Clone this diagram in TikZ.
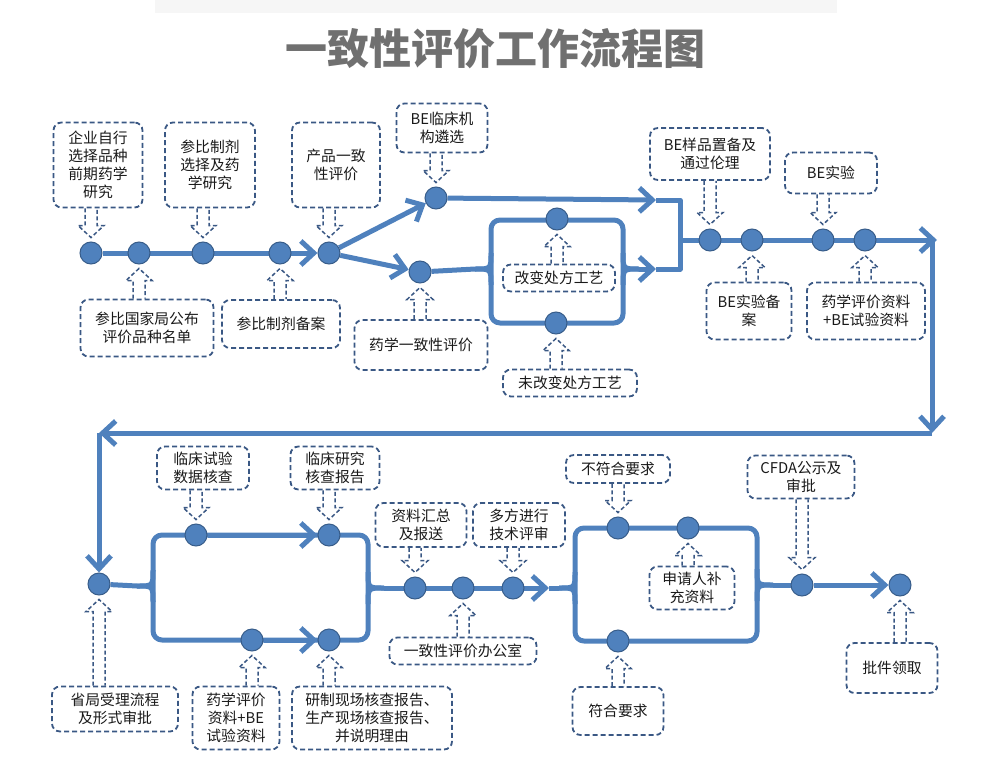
\documentclass[tikz,border=0pt]{standalone}
\usepackage{fontspec}
\setmainfont{Noto Sans CJK SC}
\usetikzlibrary{arrows.meta,backgrounds,calc}

\definecolor{flowblue}{RGB}{79,129,189}
\definecolor{dotedge}{RGB}{56,93,138}
\definecolor{boxedge}{RGB}{58,88,132}
\definecolor{titlegray}{RGB}{112,112,112}

\tikzset{
  flow/.style={draw=flowblue, line width=5pt, line join=round},
  go/.style={-{Straight Barb[length=13pt,width=24pt]}},
  dot/.style={circle, fill=flowblue, draw=dotedge, line width=1pt, minimum size=22pt, inner sep=0pt},
  lbl/.style={draw=boxedge, dash pattern=on 5pt off 3pt, line width=1.8pt, rounded corners=8pt,
    align=center, inner sep=2pt, text=black!90, font=\fontsize{14.8}{18}\selectfont},
  harrow/.style={draw=boxedge, dash pattern=on 4pt off 2.5pt, line width=1.5pt}
}

% hollow arrow, box above -> dot below
\newcommand\hdown[2]{%
  \draw[harrow] let \p1=(#2 |- #1.south), \p2=(#2.north) in
    ({\x1-6pt},\y1) -- ({\x1-6pt},{\y2+16pt}) -- ({\x1-13pt},{\y2+16pt})
    -- (\x1,{\y2+4pt}) -- ({\x1+13pt},{\y2+16pt}) -- ({\x1+6pt},{\y2+16pt}) -- ({\x1+6pt},\y1);}
% hollow arrow, box below -> dot above
\newcommand\hup[2]{%
  \draw[harrow] let \p1=(#2 |- #1.north), \p2=(#2.south) in
    ({\x1-6pt},\y1) -- ({\x1-6pt},{\y2-16pt}) -- ({\x1-13pt},{\y2-16pt})
    -- (\x1,{\y2-4pt}) -- ({\x1+13pt},{\y2-16pt}) -- ({\x1+6pt},{\y2-16pt}) -- ({\x1+6pt},\y1);}
% rounded joint where a line meets a loop side
\newcommand\joinL[1]{%
  \draw[flow] ([xshift=-16pt]#1) .. controls (#1) .. ([yshift=16pt]#1);
  \draw[flow] ([xshift=-16pt]#1) .. controls (#1) .. ([yshift=-16pt]#1);}
\newcommand\joinR[1]{%
  \draw[flow] ([yshift=16pt]#1) .. controls (#1) .. ([xshift=16pt]#1);
  \draw[flow] ([yshift=-16pt]#1) .. controls (#1) .. ([xshift=16pt]#1);}

\begin{document}
\begin{tikzpicture}[x=1pt,y=-1pt]
\useasboundingbox (0,0) rectangle (1001,765);
\fill[gray!7] (155,0) rectangle (837,13);

\node[text=titlegray, font=\fontsize{42}{50}\selectfont\bfseries] (title) at (495,49) {一致性评价工作流程图};

% dots
\node[dot] (d1) at (91,253) {};
\node[dot] (d2) at (139,253) {};
\node[dot] (d3) at (203,253) {};
\node[dot] (d4) at (280,253) {};
\node[dot] (d5) at (329,253) {};
\node[dot] (b1) at (436,198) {};
\node[dot] (b2) at (420,272) {};
\node[dot] (c1) at (557,219) {};
\node[dot] (c2) at (556,323) {};
\node[dot] (e1) at (710,240) {};
\node[dot] (e2) at (752,240) {};
\node[dot] (e3) at (823,240) {};
\node[dot] (e4) at (865,240) {};
\node[dot] (f0) at (99,584) {};
\node[dot] (g1) at (196,535) {};
\node[dot] (g2) at (329,535) {};
\node[dot] (g3) at (252,640) {};
\node[dot] (g4) at (329,640) {};
\node[dot] (h1) at (415,588) {};
\node[dot] (h2) at (463,588) {};
\node[dot] (h3) at (513,588) {};
\node[dot] (k1) at (618,528) {};
\node[dot] (k2) at (688,528) {};
\node[dot] (k3) at (618,641) {};
\node[dot] (m1) at (802,585) {};
\node[dot] (m2) at (900,585) {};

% corners and joints
\coordinate (lp1a) at (491,220);  \coordinate (lp1b) at (623,323);
\coordinate (lj1) at (491,269);   \coordinate (rj1) at (623,269);
\coordinate (mt) at (656,200);    \coordinate (mb) at (656,269);
\coordinate (jt) at (680,200);    \coordinate (jb) at (680,269);
\coordinate (jm) at (680,240);    \coordinate (ra) at (937,240);
\coordinate (rt) at (932,240);    \coordinate (rb) at (932,433);
\coordinate (lb) at (99,433);
\coordinate (lp2a) at (153,535);  \coordinate (lp2b) at (368,640);
\coordinate (lj2) at (153,586);   \coordinate (rj2) at (368,588);
\coordinate (ha) at (549,588);
\coordinate (lp3a) at (575,528);  \coordinate (lp3b) at (757,641);
\coordinate (lj3) at (575,588);   \coordinate (rj3) at (757,585);

% labels
\node[lbl, minimum width=89, minimum height=85] (t1) at (98,165) {企业自行\\选择品种\\前期药学\\研究};
\node[lbl, minimum width=90, minimum height=85] (t2) at (210,165) {参比制剂\\选择及药\\学研究};
\node[lbl, minimum width=88, minimum height=85] (t3) at (336,165) {产品一致\\性评价};
\node[lbl, minimum width=91, minimum height=49] (t4) at (442,128) {BE临床机\\构遴选};
\node[lbl, minimum width=120, minimum height=52] (t5) at (710,154) {BE样品置备及\\通过伦理};
\node[lbl, minimum width=92, minimum height=41] (t6) at (831,173) {BE实验};
\node[lbl, minimum width=133, minimum height=57] (u1) at (147,328) {参比国家局公布\\评价品种名单};
\node[lbl, minimum width=118, minimum height=48] (u2) at (281,324) {参比制剂备案};
\node[lbl, minimum width=133, minimum height=50] (u3) at (421,345) {药学一致性评价};
\node[lbl, minimum width=112, minimum height=27] (u4) at (559,278) {改变处方工艺};
\node[lbl, minimum width=134, minimum height=27] (u5) at (570,383) {未改变处方工艺};
\node[lbl, minimum width=85, minimum height=57] (u6) at (749,311) {BE实验备\\案};
\node[lbl, minimum width=118, minimum height=57] (u7) at (866,311) {药学评价资料\\+BE试验资料};
\node[lbl, minimum width=92, minimum height=43] (v1) at (203,468) {临床试验\\数据核查};
\node[lbl, minimum width=89, minimum height=43] (v2) at (335,468) {临床研究\\核查报告};
\node[lbl, minimum width=91, minimum height=44] (v3) at (421,525) {资料汇总\\及报送};
\node[lbl, minimum width=92, minimum height=44] (v4) at (519,525) {多方进行\\技术评审};
\node[lbl, minimum width=104, minimum height=28] (v5) at (618,469) {不符合要求};
\node[lbl, minimum width=107, minimum height=43] (v6) at (801,477) {CFDA公示及\\审批};
\node[lbl, minimum width=126, minimum height=45] (w1) at (115,709) {省局受理流程\\及形式审批};
\node[lbl, minimum width=87, minimum height=63] (w2) at (236,718) {药学评价\\资料+BE\\试验资料};
\node[lbl, minimum width=160, minimum height=63] (w3) at (372,718) {研制现场核查报告、\\生产现场核查报告、\\并说明理由};
\node[lbl, minimum width=147, minimum height=27] (w4) at (463,651) {一致性评价办公室};
\node[lbl, minimum width=91, minimum height=48] (w5) at (618,711) {符合要求};
\node[lbl, minimum width=85, minimum height=43] (w6) at (692,588) {申请人补\\充资料};
\node[lbl, minimum width=91, minimum height=50] (w7) at (892,668) {批件领取};

% flow lines
\begin{pgfonlayer}{background}
\draw[flow,go] (d1) -- (d5);
\draw[flow,go] (d5) -- (b1);
\draw[flow,go] (d5) -- (b2);
\draw[flow,go] (b1) -- (mt);
\draw[flow] (b2) -- ([xshift=-16pt]lj1);
\joinL{lj1}
\draw[flow,rounded corners=9pt] (lp1a) rectangle (lp1b);
\joinR{rj1}
\draw[flow,go] ([xshift=16pt]rj1) -- (mb);
\draw[flow] (mt) -- (jt) -- (jb) -- (mb);
\draw[flow,go] (jm) -- (ra);
\draw[flow,go] (rt) -- (rb);
\draw[flow,go] (rb) -- (lb);
\draw[flow,go] (lb) -- (f0);

\draw[flow] (f0) -- ([xshift=-16pt]lj2);
\joinL{lj2}
\draw[flow,rounded corners=9pt] (lp2a) rectangle (lp2b);
\draw[flow,go] (g1) -- (g2);
\draw[flow,go] (g3) -- (g4);
\joinR{rj2}
\draw[flow,go] ([xshift=16pt]rj2) -- (ha);
\draw[flow] (ha) -- ([xshift=-16pt]lj3);
\joinL{lj3}
\draw[flow,rounded corners=9pt] (lp3a) rectangle (lp3b);
\joinR{rj3}
\draw[flow] ([xshift=16pt]rj3) -- (m1);
\draw[flow,go] (m1) -- (m2);
\end{pgfonlayer}

% hollow arrows
\hdown{t1}{d1} \hdown{t2}{d3} \hdown{t3}{d5} \hdown{t4}{b1}
\hdown{t5}{e1} \hdown{t6}{e3} \hdown{v1}{g1} \hdown{v2}{g2}
\hdown{v3}{h1} \hdown{v4}{h3} \hdown{v5}{k1} \hdown{v6}{m1}
\hup{u1}{d2} \hup{u2}{d4} \hup{u3}{b2} \hup{u4}{c1} \hup{u5}{c2}
\hup{u6}{e2} \hup{u7}{e4} \hup{w1}{f0} \hup{w2}{g3} \hup{w3}{g4}
\hup{w4}{h2} \hup{w5}{k3} \hup{w6}{k2} \hup{w7}{m2}
\end{tikzpicture}
\end{document}
